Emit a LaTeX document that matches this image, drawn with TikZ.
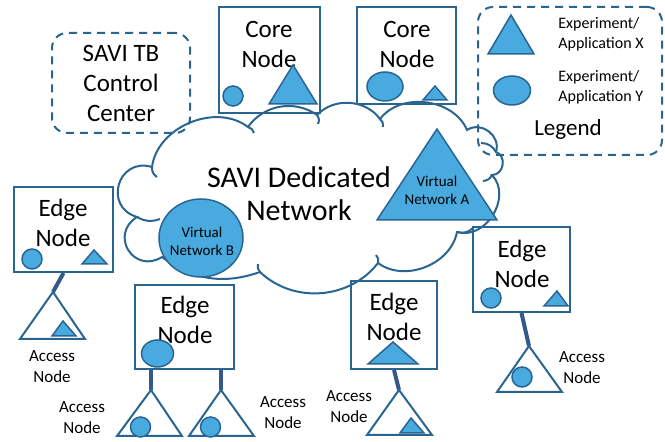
\documentclass[tikz,border=0pt]{standalone}
\usepackage{fontspec}
\setmainfont{Carlito}
\usetikzlibrary{positioning}
\definecolor{edgeblue}{RGB}{42,101,146}
\definecolor{appblue}{RGB}{72,170,223}
\definecolor{linkblue}{RGB}{52,88,140}

\begin{document}
\begin{tikzpicture}[x=0.5pt, y=0.5pt,
    nodebox/.style={draw=edgeblue, line width=1pt, inner sep=0pt},
    dashbox/.style={draw=edgeblue, line width=1pt, dash pattern=on 4pt off 3pt, rounded corners=7.5pt, inner sep=0pt},
    bigtext/.style={font=\fontsize{12.5}{15}\selectfont, align=center, inner sep=0pt},
    smalltext/.style={font=\fontsize{8.5}{10.5}\selectfont, align=center, inner sep=0pt},
    vntext/.style={font=\fontsize{7.5}{9}\selectfont, align=center, inner sep=0pt},
    legtext/.style={font=\fontsize{8}{10}\selectfont, align=left, inner sep=0pt, anchor=west},
    app/.style={draw=edgeblue, fill=appblue, line width=0.75pt},
    access/.style={draw=edgeblue, line width=1pt, fill=white},
    link/.style={linkblue, line width=2pt},
    cloudline/.style={edgeblue, line width=1pt}
]
\useasboundingbox (0,0) rectangle (665,-442);

% Cloud
\draw[cloudline] (152,-167) to[bend left=60] (248,-127)
    to[bend left=45] (317,-115)
    to[bend left=50] (380,-119)
    to[bend left=60] (467,-130)
    to[bend left=70, looseness=1.2] (496,-152)
    to[bend left=80, looseness=1.3] (492,-175)
    to[bend left=75, looseness=1.15] (457,-232)
    to[bend left=58] (378,-263)
    to[bend left=48] (260,-272)
    to[bend left=28] (162,-257)
    to[bend left=90, looseness=1.8] (137,-217)
    to[bend left=90, looseness=1.75] (152,-167);
\draw[cloudline] (152,-167) to[bend right=30] (157,-177);
\draw[cloudline] (137,-217) to[bend right=25] (160,-219);
\draw[cloudline] (248,-127) to[bend left=30] (254,-133);
\draw[cloudline] (317,-115) to[bend left=30] (318,-124);
\draw[cloudline] (380,-119) to[bend left=30] (383,-127);
\draw[cloudline] (496,-152) to[bend right=30] (481,-143);
\draw[cloudline] (492,-175) to[bend left=30] (483,-181);
\draw[cloudline] (457,-232) to[bend right=30] (473,-228);
\draw[cloudline] (378,-263) to[bend right=30] (376,-255);
\draw[cloudline] (260,-272) to[bend left=30] (258,-264);

\node[font=\fontsize{15}{16.5}\selectfont, align=center, inner sep=0pt] (cloudt) at (299,-194) {SAVI Dedicated\\Network};

% Virtual networks
\draw[app] (201,-238) ellipse[x radius=21pt, y radius=19.5pt];
\node[vntext] (vnb) at (202,-241) {Virtual\\Network B};
\draw[app] (437,-129) -- (377,-220) -- (497,-220) -- cycle;
\node[vntext] (vna) at (437,-190) {Virtual\\Network A};

% Control center and legend
\node[dashbox, bigtext, minimum width=69pt, minimum height=50pt] (ctrl) at (121,-83) {SAVI TB\\Control\\Center};
\node[dashbox, minimum width=92pt, minimum height=74pt] (legend) at (570,-81) {};
\draw[app] (511,-15) -- (488,-54) -- (534,-54) -- cycle;
\draw[app] (512,-90.5) ellipse[x radius=9.25pt, y radius=7.25pt];
\node[legtext] (legx) at (558,-34) {Experiment/\\Application X};
\node[legtext] (legy) at (558,-87.5) {Experiment/\\Application Y};
\node[font=\fontsize{11.5}{13}\selectfont, inner sep=0pt] (legendt) at (568,-129) {Legend};

% Core nodes
\node[nodebox, minimum width=50.5pt, minimum height=53pt] (core1) at (269.5,-60) {};
\node[bigtext] (core1t) at (269,-44) {Core\\Node};
\draw[app] (233,-96) circle[radius=5pt];
\draw[app] (293,-65) -- (269,-104) -- (317,-104) -- cycle;

\node[nodebox, minimum width=49.5pt, minimum height=48.5pt] (core2) at (406.5,-55.5) {};
\node[bigtext] (core2t) at (407,-44) {Core\\Node};
\draw[app] (385,-86.5) ellipse[x radius=9pt, y radius=7.25pt];
\draw[app] (435,-86) -- (423,-100) -- (447,-100) -- cycle;

% Edge nodes
\node[nodebox, minimum width=49.5pt, minimum height=42.5pt] (edge1) at (63.5,-229.5) {};
\node[bigtext] (edge1t) at (63,-223) {Edge\\Node};
\draw[app] (32,-259) circle[radius=5pt];
\draw[app] (94,-250) -- (82,-264) -- (107,-264) -- cycle;

\node[nodebox, minimum width=49.5pt, minimum height=42pt] (edge2) at (184.5,-327) {};
\node[bigtext] (edge2t) at (185,-320) {Edge\\Node};
\draw[app] (157.5,-353.5) ellipse[x radius=8pt, y radius=6.75pt];

\node[nodebox, minimum width=43pt, minimum height=44pt] (edge3) at (394,-325) {};
\node[bigtext] (edge3t) at (394,-317) {Edge\\Node};
\draw[app] (393,-342) -- (368,-364) -- (418,-364) -- cycle;

\node[nodebox, minimum width=48.5pt, minimum height=42.5pt] (edge4) at (521.5,-269.5) {};
\node[bigtext] (edge4t) at (522,-264) {Edge\\Node};
\draw[app] (491,-298) circle[radius=5pt];
\draw[app] (557,-291) -- (544,-306) -- (568,-306) -- cycle;

% Access nodes
\coordinate (acc1) at (53,-292);
\coordinate (acc2a) at (151,-390);
\coordinate (acc2b) at (221,-390);
\coordinate (acc3) at (399,-390);
\coordinate (acc4) at (529,-346);

\draw[link] (edge1.south) -- (acc1);
\draw[link] (acc2a |- edge2.south) -- (acc2a);
\draw[link] (acc2b |- edge2.south) -- (acc2b);
\draw[link] (edge3.south) -- (acc3);
\draw[link] (edge4.south) -- (acc4);

\draw[access] (acc1) -- (20,-339) -- (85,-339) -- cycle;
\draw[app] (63,-321) -- (52,-336) -- (76,-336) -- cycle;
\node[smalltext] (acc1t) at (52,-367) {Access\\Node};

\draw[access] (acc2a) -- (117,-436) -- (182,-436) -- cycle;
\draw[app] (140.5,-427) circle[radius=5pt];
\node[smalltext] (acc2at) at (82,-418) {Access\\Node};

\draw[access] (acc2b) -- (189,-436) -- (254,-436) -- cycle;
\draw[app] (210.5,-427) circle[radius=5pt];
\node[smalltext] (acc2bt) at (283,-413) {Access\\Node};

\draw[access] (acc3) -- (367,-435) -- (432,-435) -- cycle;
\draw[app] (411,-418) -- (400,-433) -- (424,-433) -- cycle;
\node[smalltext] (acc3t) at (349,-407) {Access\\Node};

\draw[access] (acc4) -- (497,-392) -- (562,-392) -- cycle;
\draw[app] (522,-377) circle[radius=5pt];
\node[smalltext] (acc4t) at (582,-368) {Access\\Node};
\end{tikzpicture}
\end{document}
